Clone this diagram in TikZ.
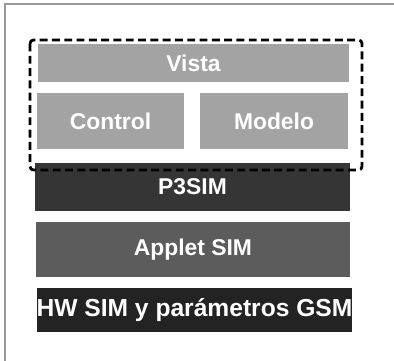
\documentclass[tikz,border=0pt]{standalone}
\usepackage{fontspec}
\setmainfont{Liberation Sans}
\usetikzlibrary{positioning}

\definecolor{mvcgray}{HTML}{A3A3A3}
\definecolor{simdark}{HTML}{353535}
\definecolor{appletgray}{HTML}{5C5C5C}
\definecolor{hwdark}{HTML}{232323}

\begin{document}
\begin{tikzpicture}[
    layer/.style={draw=none, inner sep=0pt, text=white,
      font=\fontsize{13}{15}\selectfont\bfseries},
  ]
  \useasboundingbox (0,0) rectangle (7.88cm,-7.22cm);
  \draw[gray!80, line width=0.8pt] (7.88cm,-0.08cm) -- (0.10cm,-0.08cm) -- (0.10cm,-7.22cm);
  \node[layer, fill=mvcgray, minimum width=6.22cm, minimum height=0.76cm] (vista) at (3.87cm,-1.26cm) {Vista};
  \node[layer, fill=mvcgray, minimum width=2.94cm, minimum height=1.12cm] (control) at (2.21cm,-2.42cm) {Control};
  \node[layer, fill=mvcgray, minimum width=2.96cm, minimum height=1.12cm] (modelo) at (5.48cm,-2.42cm) {Modelo};
  \node[layer, fill=simdark, minimum width=6.30cm, minimum height=0.96cm] (p3sim) at (3.85cm,-3.74cm) {P3SIM};
  \node[layer, fill=appletgray, minimum width=6.28cm, minimum height=1.10cm] (applet) at (3.86cm,-4.99cm) {Applet SIM};
  \node[layer, fill=hwdark, minimum width=6.26cm, minimum height=0.88cm, font=\fontsize{14}{16}\selectfont\bfseries] (hw) at (3.89cm,-6.20cm) {HW SIM y parámetros GSM};
  \draw[line width=1.6pt, dash pattern=on 4.5pt off 2.5pt, rounded corners=2pt] (0.60cm,-0.80cm) rectangle (7.24cm,-3.40cm);
\end{tikzpicture}
\end{document}
